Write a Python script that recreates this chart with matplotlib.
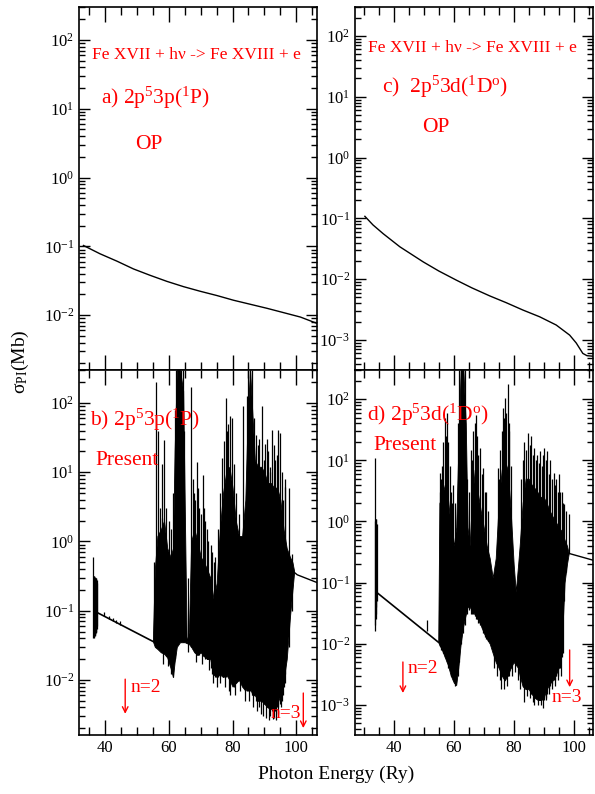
import matplotlib
matplotlib.use('Agg')
import matplotlib.pyplot as plt
from matplotlib.ticker import MultipleLocator, LogLocator, NullFormatter
import numpy as np

plt.rcParams['font.family'] = 'Liberation Serif'
plt.rcParams['mathtext.fontset'] = 'custom'
plt.rcParams['mathtext.rm'] = 'Liberation Serif'
plt.rcParams['mathtext.it'] = 'Liberation Serif:italic'
plt.rcParams['mathtext.bf'] = 'Liberation Serif:bold'

# ---- OP curves (top panels) ----
op_a_E = [33.2, 38.4, 43.7, 48.9, 54.1, 59.4, 64.6, 69.8, 75.1, 80.3, 85.6, 90.8, 96.0, 101.3, 106.5]
op_a_s = [0.103, 0.078, 0.061, 0.047, 0.038, 0.031, 0.026, 0.0223, 0.0193, 0.0165, 0.0144, 0.0126, 0.0109, 0.0094, 0.0076]

op_c_E = [30.3, 33.0, 36.4, 42.0, 49.8, 55.0, 60.9, 66.0, 72.0, 77.5, 83.1, 88.7, 94.2, 98.7, 100.9, 103.1, 104.5, 106.5]
op_c_s = [0.108, 0.078, 0.056, 0.034, 0.0192, 0.0136, 0.0096, 0.0072, 0.0053, 0.0041, 0.0031, 0.0024, 0.00176,
          0.0012, 0.00089, 0.0006, 0.00055, 0.00054]

# ---- Present, 2p5 3p (1P) ----
bg_b_E = [37.5, 55.0]
bg_b_s = [0.094, 0.036]
tail_b_E = [99.3, 100.3, 106.5]
tail_b_s = [0.36, 0.33, 0.255]

env_b_E = [55.0, 55.6, 56.4, 57.5, 58.5, 59.5, 60.5, 61.3, 61.8, 62.5, 63.5, 64.5, 65.0,
           65.6, 66.3, 67.0, 68.0, 69.0, 70.0, 71.0, 72.0, 73.0, 74.0, 75.0, 76.0, 77.0,
           78.0, 79.0, 80.0, 81.0, 82.0, 83.0, 84.0, 84.8, 85.5, 86.3, 87.0, 88.0, 89.0,
           90.0, 91.0, 92.0, 93.0, 94.0, 95.0, 96.0, 97.0, 98.0, 98.8, 99.3]
env_b_hi = [0.04, 0.4, 1.2, 1.5, 2.0, 0.8, 0.6, 0.8, 20, 300, 300, 150, 3,
            0.035, 0.05, 1.0, 1.5, 1.0, 0.6, 0.5, 0.4, 0.3, 0.15, 0.25, 1.5, 5,
            10, 12, 6, 2, 1.2, 1.2, 4, 80, 300, 60, 15, 12, 12,
            10, 7, 7, 6, 6, 4, 1.5, 0.8, 0.6, 0.5, 0.38]
env_b_lo = [0.036, 0.03, 0.028, 0.025, 0.024, 0.021, 0.015, 0.011, 0.018, 0.03, 0.035, 0.035, 0.035,
            0.034, 0.033, 0.03, 0.025, 0.023, 0.025, 0.022, 0.02, 0.02, 0.012, 0.011, 0.012, 0.011,
            0.012, 0.01, 0.008, 0.009, 0.01, 0.008, 0.007, 0.008, 0.0075, 0.006, 0.006, 0.005, 0.005,
            0.0045, 0.004, 0.0038, 0.004, 0.0045, 0.006, 0.01, 0.02, 0.08, 0.2, 0.35]

spk_b_E = [36.3, 36.4, 36.5, 36.6, 36.7, 36.8, 36.9, 37.0, 37.1, 37.2, 37.3, 37.4,
           39.8, 41.2, 42.6, 43.5, 44.6,
           55.3, 56.0, 56.5, 57.2, 57.7, 58.0, 58.3, 58.6, 59.2, 59.8, 60.0, 60.8, 61.3, 61.9,
           62.3, 62.8, 63.3, 63.8, 64.3, 64.7, 66.0, 66.9, 67.5, 67.9, 68.2, 68.4, 68.7, 69.0,
           69.5, 70.2, 70.3, 70.8, 71.0, 71.5, 72.0, 72.3, 72.6, 73.2, 73.7, 73.8, 74.1, 74.5,
           75.2, 75.5, 76.0, 76.2, 76.6, 77.3, 77.6, 77.9, 78.2, 78.6, 79.0, 79.3, 79.8, 80.5,
           80.8, 81.2, 82.0, 82.3, 83.4, 83.8, 84.5, 85.0, 85.2, 85.6, 86.2, 86.5, 86.8, 87.5,
           87.8, 88.0, 88.3, 88.8, 89.2, 89.6, 89.8, 90.3, 90.6, 90.8, 91.2, 91.5, 91.6, 91.8,
           92.4, 92.6, 92.9, 93.0, 93.2, 93.6, 93.8, 94.2, 94.4, 94.9, 95.2, 95.5, 95.9, 96.2,
           96.3, 96.6, 97.7, 98.6]
spk_b_lo = [0.04, 0.042, 0.04, 0.045, 0.043, 0.045, 0.045, 0.048, 0.05, 0.05, 0.055, 0.06,
            0.085, 0.077, 0.07, 0.066, 0.062,
            0.035, 0.03, 0.03, 0.028, 0.025, 0.025, 0.017, 0.024, 0.022, 0.016, 0.018, 0.012, 0.011, 0.02,
            0.03, 0.035, 0.035, 0.035, 0.035, 0.035, 0.025, 0.03, 0.028, 0.026, 0.025, 0.018, 0.023, 0.023,
            0.023, 0.025, 0.017, 0.022, 0.022, 0.02, 0.02, 0.02, 0.014, 0.015, 0.012, 0.009, 0.012, 0.011,
            0.008, 0.011, 0.012, 0.009, 0.012, 0.011, 0.008, 0.011, 0.012, 0.011, 0.007, 0.006, 0.009, 0.008,
            0.006, 0.009, 0.01, 0.007, 0.008, 0.005, 0.007, 0.007, 0.005, 0.007, 0.006, 0.004, 0.006, 0.005,
            0.0035, 0.005, 0.004, 0.0032, 0.005, 0.003, 0.0045, 0.0045, 0.0028, 0.004, 0.004, 0.0026, 0.004, 0.003,
            0.0035, 0.0027, 0.0035, 0.0028, 0.0035, 0.0026, 0.004, 0.0032, 0.004, 0.0045, 0.004, 0.005, 0.006, 0.008,
            0.009, 0.012, 0.03, 0.1]
spk_b_hi = [0.6, 0.3, 0.32, 0.32, 0.3, 0.31, 0.3, 0.3, 0.29, 0.3, 0.28, 0.25,
            0.095, 0.085, 0.078, 0.074, 0.07,
            0.5, 200, 40, 3, 2.2, 13, 0.5, 29, 3, 0.4, 2, 1.5, 5, 80,
            300, 300, 300, 300, 300, 40, 0.3, 170, 8, 5, 4, 0.5, 14, 6,
            3, 2.5, 0.3, 9, 3, 2, 1.5, 1.0, 0.2, 0.9, 0.7, 0.1, 0.5, 0.6,
            0.1, 1.5, 5, 0.3, 16, 28, 0.5, 120, 40, 50, 0.5, 64, 60, 13,
            0.5, 5, 2.5, 0.3, 90, 0.5, 125, 300, 1, 300, 300, 1, 60, 35,
            1, 25, 30, 1, 90, 1, 15, 26, 1, 30, 20, 1, 12, 10,
            41, 1, 25, 1, 15, 1, 18, 1, 41, 37, 1, 10, 4, 1,
            8, 6.2, 6, 0.66]

# ---- Present, 2p5 3d (1Do) ----
bg_d_E = [34.4, 54.8]
bg_d_s = [0.068, 0.0106]
tail_d_E = [98.4, 106.5]
tail_d_s = [0.30, 0.232]

env_d_E = [54.8, 55.2, 56.0, 57.0, 58.0, 59.0, 60.0, 60.8, 61.5, 62.3, 63.2, 64.0, 64.6,
           65.3, 66.0, 67.0, 68.0, 69.0, 70.0, 71.0, 72.0, 73.0, 74.0, 75.0, 76.0, 77.0,
           78.0, 79.0, 80.0, 80.7, 81.5, 82.0, 83.0, 84.0, 85.0, 86.0, 87.0, 88.0, 89.0,
           90.0, 91.0, 92.0, 93.0, 94.0, 95.0, 96.0, 97.0, 97.8, 98.4]
env_d_hi = [0.011, 2.0, 2.5, 4, 2.5, 0.8, 0.4, 0.8, 15, 300, 300, 40, 0.8,
            0.4, 2, 7, 3, 1.5, 0.8, 0.4, 0.25, 0.12, 0.25, 2, 7, 10,
            7, 1.5, 0.2, 0.07, 0.2, 0.4, 2, 5, 5, 4, 3.5, 3, 2.5,
            2.5, 2, 1.5, 1.2, 1.0, 0.8, 0.7, 0.5, 0.4, 0.3]
env_d_lo = [0.0105, 0.0095, 0.008, 0.006, 0.0045, 0.003, 0.0023, 0.0021, 0.004, 0.01, 0.02, 0.03, 0.04,
            0.04, 0.035, 0.03, 0.025, 0.02, 0.015, 0.012, 0.01, 0.007, 0.005, 0.004, 0.003, 0.0025,
            0.003, 0.004, 0.005, 0.0045, 0.004, 0.003, 0.002, 0.0018, 0.0018, 0.0015, 0.0013, 0.0012, 0.0012,
            0.0013, 0.0018, 0.0022, 0.0025, 0.003, 0.004, 0.008, 0.1, 0.2, 0.3]

spk_d_E = [33.7, 33.8, 33.9, 34.0, 34.1, 34.2, 51.1,
           55.3, 55.5, 55.8, 56.1, 56.4, 57.0, 57.3, 57.6, 58.2, 58.6, 59.0, 59.3, 59.8, 60.5,
           61.3, 61.8, 62.5, 63.1, 63.7, 64.3, 65.2, 65.8, 66.1, 66.5, 67.0, 67.3, 67.8, 68.2,
           68.7, 69.3, 69.9, 70.3, 70.8, 71.3, 73.5, 74.5, 74.8, 75.1, 75.3, 75.5, 75.8, 76.0,
           76.4, 76.8, 76.9, 77.0, 77.6, 77.9, 78.0, 78.3, 78.6, 79.2, 79.5, 80.4, 81.3, 82.2,
           82.5, 83.0, 83.6, 84.2, 84.3, 84.7, 85.3, 85.4, 85.8, 86.3, 86.4, 86.9, 87.3, 87.8,
           88.1, 88.3, 88.8, 89.2, 89.3, 89.7, 90.2, 90.7, 90.8, 91.3, 91.8, 91.9, 92.3, 92.8,
           92.9, 93.4, 93.8, 93.9, 94.3, 94.7, 94.8, 95.1, 95.6, 95.7, 96.0, 96.4, 96.8, 97.6, 98.4]
spk_d_lo = [0.016, 0.02, 0.025, 0.03, 0.04, 0.05, 0.016,
            0.009, 0.009, 0.008, 0.008, 0.007, 0.006, 0.006, 0.005, 0.004, 0.004, 0.003, 0.003, 0.0025, 0.002,
            0.003, 0.005, 0.01, 0.015, 0.02, 0.03, 0.035, 0.03, 0.03, 0.03, 0.028, 0.025, 0.025, 0.022,
            0.02, 0.018, 0.015, 0.013, 0.012, 0.011, 0.004, 0.003, 0.005, 0.004, 0.0025, 0.004, 0.0018, 0.003,
            0.003, 0.003, 0.0018, 0.003, 0.003, 0.002, 0.003, 0.003, 0.004, 0.004, 0.003, 0.0035, 0.0025, 0.0018,
            0.003, 0.002, 0.0011, 0.0018, 0.0014, 0.002, 0.0018, 0.0013, 0.0015, 0.0011, 0.0015, 0.001, 0.0013, 0.0013,
            0.001, 0.0012, 0.0012, 0.001, 0.0012, 0.0009, 0.0012, 0.0013, 0.0012, 0.0015, 0.0018, 0.0015, 0.002, 0.0018,
            0.0022, 0.0025, 0.002, 0.0025, 0.003, 0.003, 0.0025, 0.004, 0.004, 0.003, 0.006, 0.007, 0.05, 0.15, 0.3]
spk_d_hi = [11, 1.0, 1.1, 1.1, 0.9, 0.9, 0.024,
            6.2, 3, 5, 8, 20, 50, 25, 60, 20, 8, 3, 2, 4, 2,
            40, 300, 300, 300, 300, 5, 3, 15, 10, 30, 40, 55, 25, 12,
            16, 6, 7.6, 3, 3, 1.5, 0.05, 0.05, 7.6, 5, 0.1, 15, 0.1, 30,
            72, 50, 0.1, 106, 60, 0.1, 175, 40, 30, 8, 0.1, 0.05, 0.05, 0.1,
            5, 10, 20, 15, 0.2, 28, 18, 0.2, 25, 0.2, 12, 16, 10, 12,
            0.2, 9, 14, 0.2, 8, 12, 16, 10, 0.2, 14, 6, 0.2, 10, 5,
            0.2, 6.3, 0.2, 4, 5, 3, 0.2, 6, 3, 0.2, 3, 2, 1.9, 1.5, 1.3]

red = '#ff0000'

fig = plt.figure(figsize=(5.95, 7.94), dpi=100)
W, H = 595.0, 794.0


def rect(x0, y0, x1, y1):
    return [x0 / W, 1 - y1 / H, (x1 - x0) / W, (y1 - y0) / H]


ax_a = fig.add_axes(rect(79, 7, 317, 370))
ax_b = fig.add_axes(rect(79, 370, 317, 735))
ax_c = fig.add_axes(rect(355, 7, 593, 370))
ax_d = fig.add_axes(rect(355, 370, 593, 735))


def style(ax, xlim, ylim, xlabels):
    ax.set_yscale('log')
    ax.set_xlim(*xlim)
    ax.set_ylim(*ylim)
    ax.xaxis.set_major_locator(MultipleLocator(20))
    ax.xaxis.set_minor_locator(MultipleLocator(5))
    ax.yaxis.set_major_locator(LogLocator(base=10, numticks=20))
    ax.yaxis.set_minor_locator(LogLocator(base=10, subs=np.arange(2, 10), numticks=20))
    ax.yaxis.set_minor_formatter(NullFormatter())
    ax.tick_params(which='both', direction='in', top=True, right=True, labelsize=12, width=1)
    ax.tick_params(axis='x', which='major', length=11)
    ax.tick_params(axis='x', which='minor', length=6)
    ax.tick_params(axis='y', which='major', length=8)
    ax.tick_params(axis='y', which='minor', length=4.5)
    ax.tick_params(labelbottom=xlabels)
    for sp in ax.spines.values():
        sp.set_linewidth(1.2)


style(ax_a, (31.8, 106.5), (1.6e-3, 300), False)
style(ax_b, (31.8, 106.5), (1.6e-3, 300), True)
style(ax_c, (27, 106.5), (3.2e-4, 300), False)
style(ax_d, (27, 106.5), (3.2e-4, 300), True)

# OP curves
ax_a.plot(op_a_E, op_a_s, color='k', lw=1)
ax_c.plot(op_c_E, op_c_s, color='k', lw=1)

# Present curves
for ax, bgE, bgS, tE, tS, eE, eH, eL, sE, sL, sH in [
        (ax_b, bg_b_E, bg_b_s, tail_b_E, tail_b_s, env_b_E, env_b_hi, env_b_lo, spk_b_E, spk_b_lo, spk_b_hi),
        (ax_d, bg_d_E, bg_d_s, tail_d_E, tail_d_s, env_d_E, env_d_hi, env_d_lo, spk_d_E, spk_d_lo, spk_d_hi)]:
    ax.plot(bgE, bgS, color='k', lw=1.2)
    ax.plot(tE, tS, color='k', lw=1)
    ax.fill_between(eE, eL, eH, color='k', lw=0.6)
    ax.vlines(sE, sL, sH, color='k', lw=0.9)

# texts
fs_big = 15.5
ax_a.text(0.055, 0.868, 'Fe XVII + h\u03bd -> Fe XVIII + e', transform=ax_a.transAxes,
          color=red, fontsize=12.5, ha='left', va='center')
ax_a.text(0.092, 0.749, 'a) 2p$^5$3p($^1$P)', transform=ax_a.transAxes,
          color=red, fontsize=fs_big, ha='left', va='center')
ax_a.text(0.235, 0.62, 'OP', transform=ax_a.transAxes, color=red, fontsize=fs_big, ha='left', va='center')

ax_c.text(0.055, 0.887, 'Fe XVII + h\u03bd -> Fe XVIII + e', transform=ax_c.transAxes,
          color=red, fontsize=12.5, ha='left', va='center')
ax_c.text(0.113, 0.78, 'c)  2p$^5$3d($^1$D$^{\\rm o}$)', transform=ax_c.transAxes,
          color=red, fontsize=fs_big, ha='left', va='center')
ax_c.text(0.28, 0.667, 'OP', transform=ax_c.transAxes, color=red, fontsize=fs_big, ha='left', va='center')

ax_b.text(0.046, 0.863, 'b) 2p$^5$3p($^1$P)', transform=ax_b.transAxes,
          color=red, fontsize=fs_big, ha='left', va='center')
ax_b.text(0.067, 0.753, 'Present', transform=ax_b.transAxes, color=red, fontsize=fs_big, ha='left', va='center')

ax_d.text(0.05, 0.877, 'd) 2p$^5$3d($^1$D$^{\\rm o}$)', transform=ax_d.transAxes,
          color=red, fontsize=fs_big, ha='left', va='center')
ax_d.text(0.076, 0.792, 'Present', transform=ax_d.transAxes, color=red, fontsize=fs_big, ha='left', va='center')

# threshold arrows
arr = dict(arrowstyle='->', color=red, lw=1, shrinkA=0, shrinkB=0)
ax_b.annotate('', xy=(46.3, 0.058), xytext=(46.3, 0.153),
              xycoords=('data', 'axes fraction'), textcoords=('data', 'axes fraction'), arrowprops=arr)
ax_b.text(47.9, 0.129, 'n=2', transform=ax_b.get_xaxis_transform(), color=red, fontsize=14, ha='left', va='center')
ax_b.annotate('', xy=(102.2, 0.019), xytext=(102.2, 0.115),
              xycoords=('data', 'axes fraction'), textcoords=('data', 'axes fraction'), arrowprops=arr)
ax_b.text(101.6, 0.06, 'n=3', transform=ax_b.get_xaxis_transform(), color=red, fontsize=14, ha='right', va='center')

ax_d.annotate('', xy=(43.0, 0.115), xytext=(43.0, 0.2),
              xycoords=('data', 'axes fraction'), textcoords=('data', 'axes fraction'), arrowprops=arr)
ax_d.text(44.7, 0.181, 'n=2', transform=ax_d.get_xaxis_transform(), color=red, fontsize=14, ha='left', va='center')
ax_d.annotate('', xy=(98.7, 0.131), xytext=(98.7, 0.233),
              xycoords=('data', 'axes fraction'), textcoords=('data', 'axes fraction'), arrowprops=arr)
ax_d.text(97.7, 0.104, 'n=3', transform=ax_d.get_xaxis_transform(), color=red, fontsize=14, ha='center', va='center')

# axis labels
fig.text(336 / W, 1 - 774 / H, 'Photon Energy (Ry)', fontsize=14, ha='center', va='center')
fig.text(20 / W, 1 - 362 / H, '\u03c3$_{\\rm PI}$(Mb)', fontsize=14, ha='center', va='center', rotation=90)

fig.savefig('out.png', dpi=100)
